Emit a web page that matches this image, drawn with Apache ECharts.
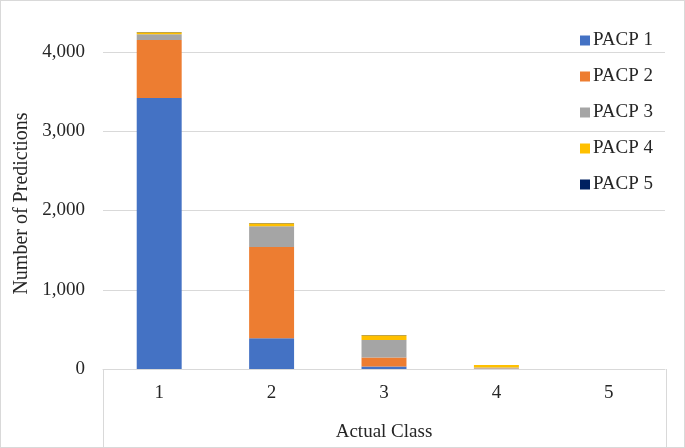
<!DOCTYPE html>
<html>
<head>
<meta charset="utf-8">
<script src="https://cdn.jsdelivr.net/npm/echarts@6/dist/echarts.min.js"></script>
<style>
html,body{margin:0;padding:0;background:#fff;}
#chart{width:685px;height:448px;box-sizing:border-box;border:1px solid #d9d9d9;}
</style>
</head>
<body>
<div id="chart"></div>
<script>
const categories = ['1', '2', '3', '4', '5'];
const seriesNames = ['PACP 1', 'PACP 2', 'PACP 3', 'PACP 4', 'PACP 5'];
const pacp1 = [3420, 389, 30, 0, 0];
const pacp2 = [730, 1150, 115, 5, 0];
const pacp3 = [75, 261, 220, 15, 0];
const pacp4 = [25, 38, 60, 30, 0];
const pacp5 = [3, 5, 5, 0, 0];
const yTicks = [0, 1000, 2000, 3000, 4000];
const colors = ['#4472C4', '#ED7D31', '#A5A5A5', '#FFC000', '#002060'];

const values = [pacp1, pacp2, pacp3, pacp4, pacp5];
const chart = echarts.init(document.getElementById('chart'), null, {renderer: 'canvas'});
const font = 'Liberation Serif';
const gridLeft = 102, gridRight = 19, gridTop = 51, gridBottom = 78;
const H = 446;
const option = {
  animation: false,
  color: colors,
  textStyle: {fontFamily: font, color: '#262626'},
  grid: {left: gridLeft, right: gridRight, top: gridTop, bottom: gridBottom, outerBoundsMode: 'none', containLabel: false},
  legend: {
    orient: 'vertical', left: 574, top: 25, itemWidth: 10, itemHeight: 10,
    itemGap: 17, icon: 'rect',
    textStyle: {fontFamily: font, fontSize: 19, color: '#262626', padding: [0, 0, 0, -2]},
    data: seriesNames
  },
  xAxis: {
    type: 'category', data: categories,
    name: 'Actual Class', nameLocation: 'middle', nameGap: 54,
    nameTextStyle: {fontFamily: font, fontSize: 19, color: '#262626'},
    axisLine: {lineStyle: {color: '#d9d9d9'}},
    axisTick: {show: false},
    axisLabel: {fontFamily: font, fontSize: 19, color: '#262626', margin: 15}
  },
  yAxis: {
    type: 'value', min: yTicks[0], max: yTicks[yTicks.length - 1], interval: 1000,
    name: 'Number of Predictions', nameLocation: 'middle', nameGap: 69,
    nameTextStyle: {fontFamily: font, fontSize: 20, color: '#262626', padding: [0, 0, 0, 14]},
    axisLine: {show: false}, axisTick: {show: false},
    axisLabel: {fontFamily: font, fontSize: 19, color: '#262626', margin: 18,
      formatter: v => v.toLocaleString('en-US')},
    splitLine: {lineStyle: {color: '#d9d9d9', width: 1}}
  },
  series: seriesNames.map((n, i) => ({
    name: n, type: 'bar', stack: 'total', data: values[i],
    barWidth: '40%', clip: false,
    itemStyle: {color: colors[i]}
  })),
  graphic: [
    {type: 'line', shape: {x1: gridLeft + 0.5, y1: H - gridBottom, x2: gridLeft + 0.5, y2: H}, style: {stroke: '#d9d9d9', lineWidth: 1}},
    {type: 'line', shape: {x1: 685 - gridRight - 0.5, y1: H - gridBottom, x2: 685 - gridRight - 0.5, y2: H}, style: {stroke: '#d9d9d9', lineWidth: 1}}
  ]
};
chart.setOption(option);
</script>
</body>
</html>
